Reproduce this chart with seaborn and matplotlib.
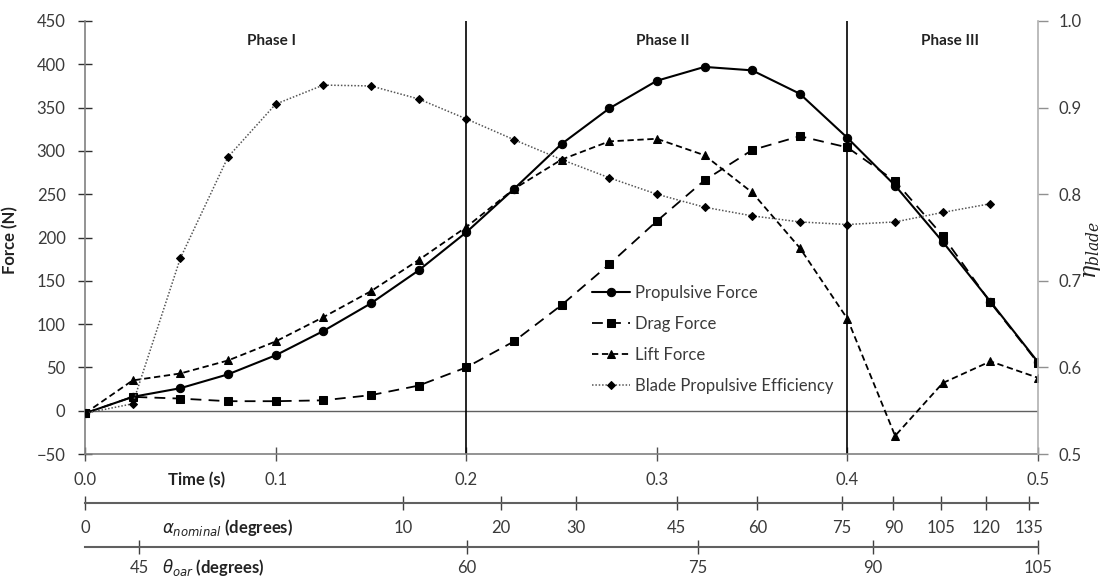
import matplotlib
matplotlib.use("Agg")
import matplotlib.pyplot as plt
import seaborn as sns
import pandas as pd

# sample times (s) for the force series
time_s = [0.0, 0.025, 0.05, 0.075, 0.1, 0.125, 0.15, 0.175, 0.2, 0.225, 0.25,
          0.275, 0.3, 0.325, 0.35, 0.375, 0.4, 0.425, 0.45, 0.475, 0.5]
propulsive_force = [-3, 16, 26, 42, 64, 92, 124, 162, 206, 256, 308,
                    349, 381, 397, 393, 366, 315, 260, 195, 126, 56]
drag_force = [-3, 16, 14, 11, 11, 12, 18, 29, 50, 80, 122,
              169, 219, 266, 301, 317, 304, 265, 202, 125, 55]
lift_force = [-3, 35, 43, 58, 80, 108, 138, 174, 212, 256, 290,
              311, 314, 295, 252, 188, 106, -29, 32, 57, 38]
# efficiency stops one sample early
blade_efficiency = [0.547, 0.558, 0.726, 0.843, 0.904, 0.926, 0.925, 0.910, 0.887, 0.863,
                    0.840, 0.819, 0.800, 0.785, 0.775, 0.768, 0.765, 0.768, 0.779, 0.789]

phase_names = ["Phase I", "Phase II", "Phase III"]
phase_label_t = [0.098, 0.303, 0.454]
phase_bounds = [0.2, 0.4]

time_ticks = [0.0, 0.1, 0.2, 0.3, 0.4, 0.5]
force_ticks = [-50, 0, 50, 100, 150, 200, 250, 300, 350, 400, 450]
eff_ticks = [0.5, 0.6, 0.7, 0.8, 0.9, 1.0]

# extra angle scales, given as the time at which each angle is reached
alpha_labels = [0, 10, 20, 30, 45, 60, 75, 90, 105, 120, 135]
alpha_times = [0.0, 0.1667, 0.2182, 0.2574, 0.3104, 0.3527, 0.3970, 0.4241, 0.4491, 0.4726, 0.4954]
theta_labels = [45, 60, 75, 90, 105]
theta_times = [0.0283, 0.2003, 0.3214, 0.4133, 0.5]

sns.set_style("white")
plt.rcParams["font.family"] = ["Lato", "DejaVu Sans"]
plt.rcParams["mathtext.fontset"] = "dejavusans"

TXT = "#3a3a3a"
fig = plt.figure(figsize=(11.1, 5.8), dpi=100)
ax = fig.add_axes([0.0766, 0.2172, 0.8586, 0.7466])
ax2 = ax.twinx()

forces = pd.DataFrame({"time": time_s, "prop": propulsive_force,
                       "drag": drag_force, "lift": lift_force})
eff = pd.DataFrame({"time": time_s[:len(blade_efficiency)], "eta": blade_efficiency})

ax.axhline(0, color="#606060", lw=1.0, zorder=1)
for b in phase_bounds:
    ax.axvline(b, color="black", lw=1.2, zorder=1)

sns.lineplot(data=forces, x="time", y="prop", ax=ax, color="black", lw=1.5,
             marker="o", markersize=6, markeredgecolor="black", label="Propulsive Force")
sns.lineplot(data=forces, x="time", y="drag", ax=ax, color="black", lw=1.3,
             linestyle=(0, (6, 4)), marker="s", markersize=5.5, markeredgecolor="black",
             label="Drag Force")
sns.lineplot(data=forces, x="time", y="lift", ax=ax, color="black", lw=1.3,
             linestyle=(0, (3.5, 2)), marker="^", markersize=6, markeredgecolor="black",
             label="Lift Force")
sns.lineplot(data=eff, x="time", y="eta", ax=ax2, color="#555555", lw=1.1,
             linestyle=(0, (1, 1.2)), marker="D", markersize=4.5, markerfacecolor="black",
             markeredgecolor="black", label="Blade Propulsive Efficiency")

for name, t in zip(phase_names, phase_label_t):
    ax.text(t, 427, name, ha="center", va="center", fontsize=11, fontweight="bold", color="#222222")

ax.set_xlim(0, 0.5)
ax.set_ylim(-50, 450)
ax2.set_ylim(0.5, 1.0)

ax.set_xticks(time_ticks, labels=[f"{t:.1f}" for t in time_ticks])
ax.set_yticks(force_ticks)
ax2.set_yticks(eff_ticks, labels=[f"{e:.1f}" for e in eff_ticks])

ax.tick_params(axis="x", direction="inout", length=10, width=1, color="#505050",
               labelsize=12, labelcolor=TXT, pad=8, bottom=True)
ax.tick_params(axis="y", direction="inout", length=10, width=1, color="#303030",
               labelsize=12, labelcolor=TXT, pad=9, left=True)
ax2.tick_params(axis="y", direction="out", length=7, width=1, color="#909090",
                labelsize=12, labelcolor=TXT, pad=8, right=True)

for s in ["top", "right"]:
    ax.spines[s].set_visible(False)
for s in ["top", "left", "bottom"]:
    ax2.spines[s].set_visible(False)
ax.spines["left"].set_color("#808080")
ax.spines["bottom"].set_color("#808080")
ax2.spines["right"].set_color("#b0b0b0")
for sp in [ax.spines["left"], ax.spines["bottom"], ax2.spines["right"]]:
    sp.set_linewidth(1.2)

ax.set_xlabel("")
ax.set_ylabel("Force (N)", fontsize=12, fontweight="bold", color="#222222")
ax.yaxis.set_label_coords(-0.0703, 0.494)
ax2.set_ylabel(r"$\eta_{blade}$", fontsize=16, color="#222222", math_fontfamily="dejavuserif")
ax2.yaxis.set_label_coords(1.046, 0.471)

sec_a = ax.secondary_xaxis(-0.1132)
sec_a.set_xticks(alpha_times, labels=[str(a) for a in alpha_labels])
sec_a.tick_params(direction="inout", length=10, width=1, color="#404040",
                  labelsize=12, labelcolor=TXT, pad=7)
sec_a.spines["bottom"].set_color("#606060")
sec_a.spines["bottom"].set_linewidth(1.5)

sec_t = ax.secondary_xaxis(-0.2148)
sec_t.set_xticks(theta_times, labels=[str(a) for a in theta_labels])
sec_t.tick_params(direction="inout", length=10, width=1, color="#404040",
                  labelsize=12, labelcolor=TXT, pad=4.5)
sec_t.spines["bottom"].set_color("#606060")
sec_t.spines["bottom"].set_linewidth(1.5)

fig.text(197 / 1110, 1 - 480 / 580, "Time (s)", ha="center", va="center",
         fontsize=12, fontweight="bold", color="#222222")
fig.text(162 / 1110, 1 - 528 / 580, r"$\alpha_{nominal}$ (degrees)", ha="left", va="center",
         fontsize=12, fontweight="bold", color="#222222")
fig.text(162 / 1110, 1 - 568 / 580, r"$\theta_{oar}$ (degrees)", ha="left", va="center",
         fontsize=12, fontweight="bold", color="#222222")

h1, l1 = ax.get_legend_handles_labels()
h2, l2 = ax2.get_legend_handles_labels()
if ax.get_legend() is not None:
    ax.get_legend().remove()
if ax2.get_legend() is not None:
    ax2.get_legend().remove()
ax2.legend(h1 + h2, l1 + l2, loc="upper left", bbox_to_anchor=(592 / 1110, 1 - 285 / 580),
           bbox_transform=fig.transFigure, frameon=False, fontsize=12, handlelength=2.3,
           handletextpad=0.3, labelspacing=0.9, borderpad=0, borderaxespad=0,
           labelcolor=TXT)

fig.savefig("out.png", dpi=100)
